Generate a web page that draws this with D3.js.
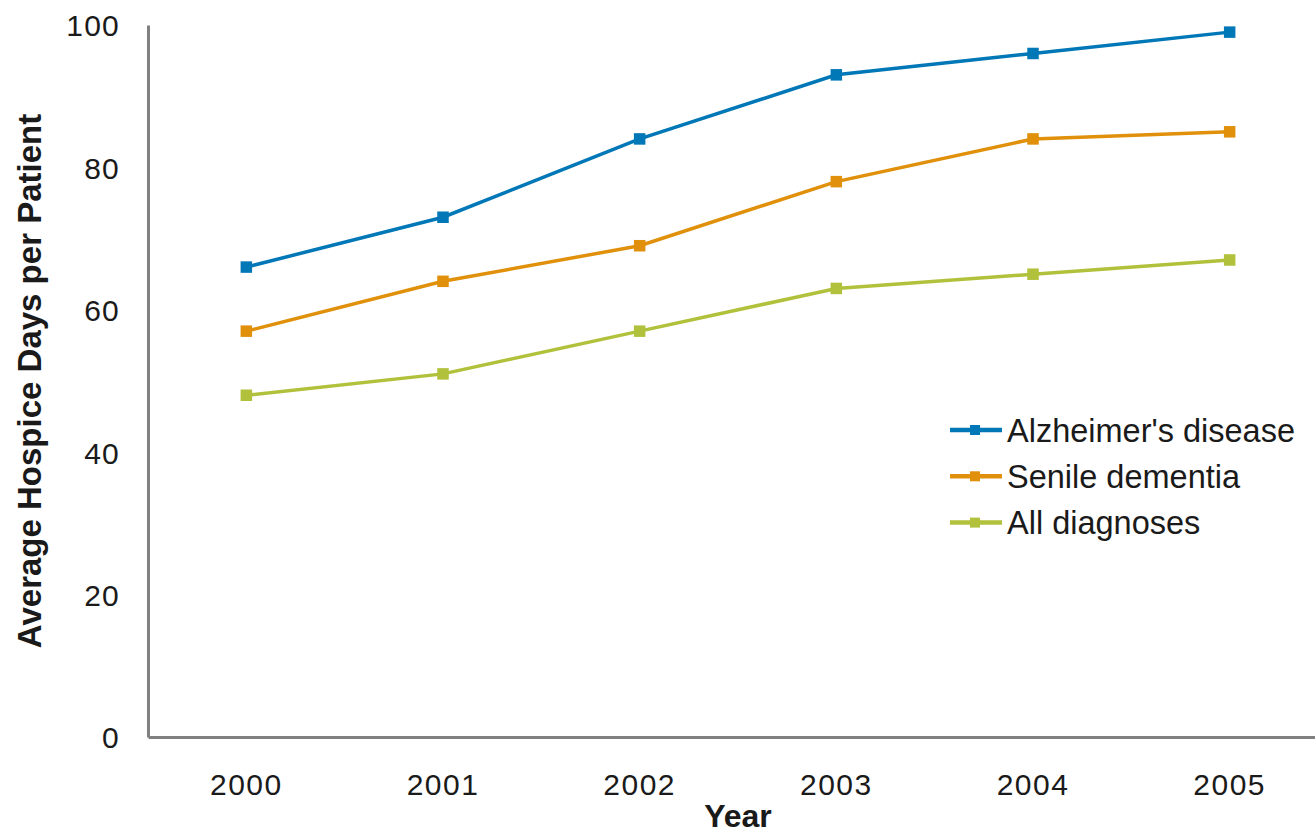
<!DOCTYPE html>
<html>
<head>
<meta charset="utf-8">
<script src="https://cdn.jsdelivr.net/npm/d3@7"></script>
<style>
  html, body { margin: 0; padding: 0; background: #ffffff; }
  svg { display: block; }
  text { font-family: "Liberation Sans", Arial, sans-serif; fill: #1a1a1a; }
</style>
</head>
<body>
<svg id="chart" width="1315" height="835"></svg>
<script>
const years = ["2000", "2001", "2002", "2003", "2004", "2005"];
const seriesNames = ["Alzheimer's disease", "Senile dementia", "All diagnoses"];
const alzheimers = [66, 73, 84, 93, 96, 99];
const senileDementia = [57, 64, 69, 78, 84, 85];
const allDiagnoses = [48, 51, 57, 63, 65, 67];
const yTicks = [0, 20, 40, 60, 80, 100];
const colors = ["#0077b6", "#e0900a", "#b2c13b"];

const seriesValues = [alzheimers, senileDementia, allDiagnoses];

const svg = d3.select("#chart");
const x = d3.scaleBand().domain(years).range([148, 1328]).padding(0);
const y = d3.scaleLinear().domain([0, 100]).range([737, 25]);

// Y axis
const yAxis = svg.append("g").attr("transform", "translate(148,0)")
  .call(d3.axisLeft(y).tickValues(yTicks).tickSize(0).tickPadding(0));
yAxis.select(".domain").attr("stroke", "#808080").attr("stroke-width", 3);
yAxis.selectAll(".tick text")
  .attr("x", -28).attr("dy", "0.36em")
  .style("font-size", "30px").style("letter-spacing", "1.2px")
  .style("font-family", "'Liberation Sans', Arial, sans-serif")
  .attr("fill", "#1a1a1a");

// X axis
const xAxis = svg.append("g").attr("transform", "translate(0,737)")
  .call(d3.axisBottom(x).tickSize(0).tickPadding(0));
xAxis.select(".domain").attr("stroke", "#808080").attr("stroke-width", 3);
xAxis.selectAll(".tick text")
  .attr("y", 58).attr("dy", 0)
  .style("font-size", "30px").style("letter-spacing", "1.5px")
  .style("font-family", "'Liberation Sans', Arial, sans-serif")
  .attr("fill", "#1a1a1a");

// Axis titles
svg.append("text")
  .attr("x", 738).attr("y", 827)
  .attr("text-anchor", "middle")
  .style("font-size", "32px").style("font-weight", "bold")
  .text("Year");

svg.append("text")
  .attr("transform", "translate(41,381) rotate(-90)")
  .attr("text-anchor", "middle")
  .style("font-size", "33px").style("font-weight", "bold")
  .text("Average Hospice Days per Patient");

// Lines & markers
const line = d3.line()
  .x((d, i) => x(years[i]) + x.bandwidth() / 2)
  .y(d => y(d));

seriesValues.forEach((vals, si) => {
  const g = svg.append("g");
  g.append("path")
    .datum(vals)
    .attr("fill", "none")
    .attr("stroke", colors[si])
    .attr("stroke-width", 3.5)
    .attr("d", line);
  const ms = 11.5;
  g.selectAll("rect")
    .data(vals)
    .join("rect")
    .attr("x", (d, i) => x(years[i]) + x.bandwidth() / 2 - ms / 2)
    .attr("y", d => y(d) - ms / 2)
    .attr("width", ms).attr("height", ms)
    .attr("fill", colors[si]);
});

// Legend
const legend = svg.append("g");
seriesNames.forEach((name, i) => {
  const cy = 430 + i * 46.3;
  legend.append("line")
    .attr("x1", 950).attr("x2", 1002).attr("y1", cy).attr("y2", cy)
    .attr("stroke", colors[i]).attr("stroke-width", 4.5);
  legend.append("rect")
    .attr("x", 975 - 5).attr("y", cy - 5).attr("width", 10).attr("height", 10)
    .attr("fill", colors[i]);
  legend.append("text")
    .attr("x", 1007).attr("y", cy).attr("dy", "0.36em")
    .style("font-size", "32.5px")
    .text(name);
});
</script>
</body>
</html>
